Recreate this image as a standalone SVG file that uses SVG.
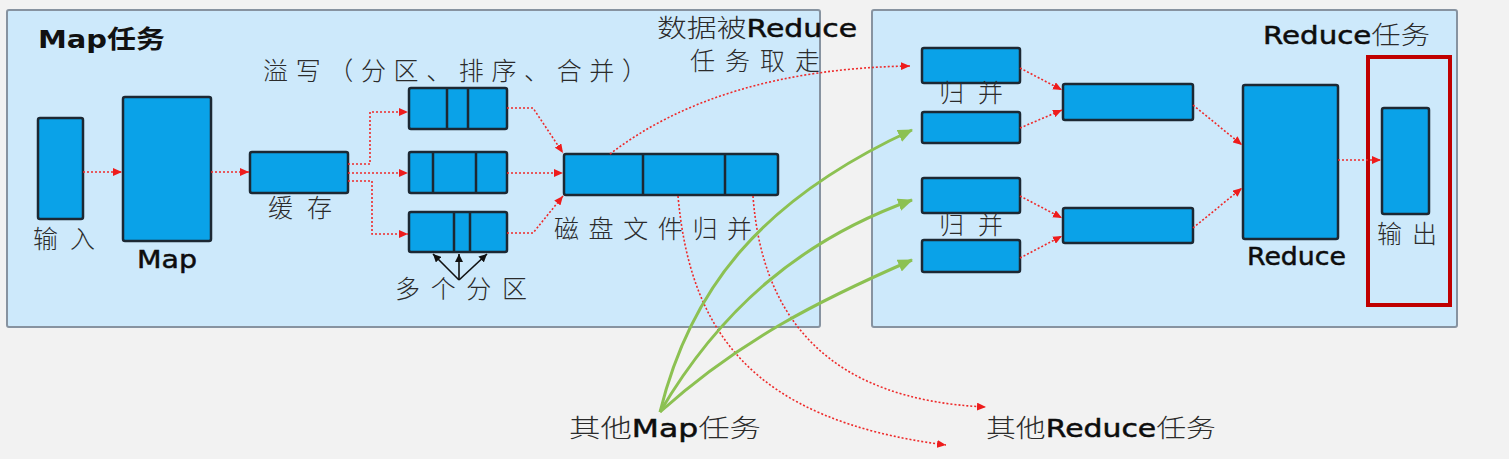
<svg xmlns="http://www.w3.org/2000/svg" width="1509" height="459" viewBox="0 0 1509 459">
<defs>
<style>
.panel{fill:#cde9fb;stroke:#8793a0;stroke-width:2}
.box{fill:#0aa2e8;stroke:#1c2833;stroke-width:2.5}
.div{stroke:#1c2833;stroke-width:2.5}
.red{fill:none;stroke:#ee2a2a;stroke-width:1.6;stroke-dasharray:2 2;marker-end:url(#ra)}
.grn{fill:none;stroke:#8cc152;stroke-width:3;marker-end:url(#ga)}
.blk{fill:none;stroke:#111;stroke-width:1.6;marker-end:url(#ba)}
.t{font-family:"Noto Sans CJK SC","Liberation Sans",sans-serif;fill:#2b2b2b;font-size:25px;font-weight:300}
.m{font-family:"DejaVu Sans","Noto Sans CJK SC",sans-serif}
.l{fill:#0d0d0d;stroke:#0d0d0d;stroke-width:0.5;font-weight:normal}
.b{font-weight:bold;fill:#111}
</style>
<marker id="ra" viewBox="0 0 8 7" refX="8" refY="3.5" markerWidth="9" markerHeight="8" markerUnits="userSpaceOnUse" orient="auto"><path d="M0,0 L8,3.5 L0,7 z" fill="#ee1c1c"/></marker>
<marker id="ga" viewBox="0 0 14 12" refX="13" refY="6" markerWidth="15" markerHeight="13" markerUnits="userSpaceOnUse" orient="auto"><path d="M0,0 L14,6 L0,12 z" fill="#8cc152"/></marker>
<marker id="ba" viewBox="0 0 8 8" refX="8" refY="4" markerWidth="8" markerHeight="8" markerUnits="userSpaceOnUse" orient="auto"><path d="M0,0 L8,4 L0,8 z" fill="#111"/></marker>
</defs>
<rect x="0" y="0" width="1509" height="459" fill="#f2f2f2"/>
<g id="map-panel"><rect class="panel" x="7" y="10" width="813" height="317" rx="2"/>
<text class="t m b" x="38" y="48" font-size="22" textLength="127" lengthAdjust="spacingAndGlyphs">Map任务</text></g>
<g id="reduce-panel"><rect class="panel" x="872" y="10" width="585" height="317" rx="2"/>
<text class="t m" x="1263" y="44" font-size="23" textLength="167" lengthAdjust="spacingAndGlyphs"><tspan class="l">Reduce</tspan>任务</text></g>
<g id="input"><rect class="box" x="38" y="118" width="45" height="101" rx="2"/>
<text class="t" x="33" y="248" textLength="62" lengthAdjust="spacing">输入</text></g>
<g id="map"><rect class="box" x="123" y="97" width="88" height="144" rx="2"/>
<text class="t m l" x="137" y="268" font-size="24" textLength="60" lengthAdjust="spacingAndGlyphs">Map</text></g>
<g id="cache"><rect class="box" x="250" y="152" width="98" height="41" rx="2"/>
<text class="t" x="268" y="217" textLength="64" lengthAdjust="spacing">缓存</text></g>
<g id="spill-label"><text class="t" x="263" y="80" font-size="24" textLength="384" lengthAdjust="spacing">溢写（分区、排序、合并）</text></g>
<g id="spill1"><rect class="box" x="409" y="88" width="98" height="41" rx="2"/><path class="div" d="M447,88V129M468,88V129"/></g>
<g id="spill2"><rect class="box" x="409" y="152" width="98" height="41" rx="2"/><path class="div" d="M433,152V193M476,152V193"/></g>
<g id="spill3"><rect class="box" x="409" y="212" width="98" height="40" rx="2"/><path class="div" d="M454,212V252M470,212V252"/></g>
<g id="partitions"><text class="t" x="395" y="298" font-size="26" textLength="132" lengthAdjust="spacing">多个分区</text></g>
<g id="merged"><rect class="box" x="564" y="154" width="214" height="41" rx="2"/><path class="div" d="M643,154V195M725,154V195"/>
<text class="t" x="554" y="238" font-size="26" textLength="198" lengthAdjust="spacing">磁盘文件归并</text></g>
<g id="fetch-label"><text class="t m" x="657" y="37" font-size="24" textLength="200" lengthAdjust="spacingAndGlyphs">数据被<tspan class="l">Reduce</tspan></text>
<text class="t" x="690" y="70" font-size="26" textLength="130" lengthAdjust="spacing">任务取走</text></g>
<g id="a1"><rect class="box" x="922" y="48" width="98" height="35" rx="2"/></g>
<g id="a2"><rect class="box" x="922" y="112" width="98" height="31" rx="2"/></g>
<text class="t" x="939" y="102" font-size="23" textLength="64" lengthAdjust="spacing">归并</text>
<g id="b1"><rect class="box" x="922" y="178" width="98" height="35" rx="2"/></g>
<g id="b2"><rect class="box" x="922" y="240" width="98" height="32" rx="2"/></g>
<text class="t" x="939" y="234" font-size="23" textLength="64" lengthAdjust="spacing">归并</text>
<g id="m1"><rect class="box" x="1063" y="84" width="130" height="36" rx="2"/></g>
<g id="m2"><rect class="box" x="1063" y="208" width="130" height="35" rx="2"/></g>
<g id="reduce"><rect class="box" x="1243" y="85" width="95" height="154" rx="2"/>
<text class="t m l" x="1247" y="265" font-size="23" textLength="99" lengthAdjust="spacingAndGlyphs">Reduce</text></g>
<g id="output"><rect x="1368" y="57" width="82" height="248" fill="none" stroke="#c00000" stroke-width="4"/>
<rect class="box" x="1382" y="108" width="47" height="106" rx="2"/>
<text class="t" x="1377" y="243" textLength="60" lengthAdjust="spacing">输出</text></g>
<g id="other-map"><text class="t m" x="569" y="437" font-size="25" textLength="192" lengthAdjust="spacingAndGlyphs">其他<tspan class="l">Map</tspan>任务</text></g>
<g id="other-reduce"><text class="t m" x="986" y="437" font-size="25" textLength="230" lengthAdjust="spacingAndGlyphs">其他<tspan class="l">Reduce</tspan>任务</text></g>
<g id="connectors">
<path class="red" d="M83,172H122"/>
<path class="red" d="M211,172H249"/>
<path class="red" d="M348,164H370V112H408"/>
<path class="red" d="M348,173H408"/>
<path class="red" d="M348,181H372V234H408"/>
<path class="red" d="M507,108H533L563,153"/>
<path class="red" d="M507,173H563"/>
<path class="red" d="M507,233H533L563,196"/>
<path class="red" d="M610,154C680,100 780,68 910,66"/>
<path class="red" d="M678,196C690,330 750,420 946,445"/>
<path class="red" d="M753,196C762,320 830,400 986,407"/>
<path class="red" d="M1020,68L1062,90"/>
<path class="red" d="M1020,128L1062,110"/>
<path class="red" d="M1020,196L1062,218"/>
<path class="red" d="M1020,258L1062,236"/>
<path class="red" d="M1193,105L1242,145"/>
<path class="red" d="M1193,228L1242,188"/>
<path class="red" d="M1338,160L1381,160"/>
<path class="grn" d="M660,412C690,290 760,200 912,130"/>
<path class="grn" d="M660,412C720,310 800,240 912,200"/>
<path class="grn" d="M660,412C740,340 820,300 912,260"/>
<path class="blk" d="M459,280L433,254"/>
<path class="blk" d="M459,280L459,254"/>
<path class="blk" d="M459,280L487,254"/>
</g>
</svg>
